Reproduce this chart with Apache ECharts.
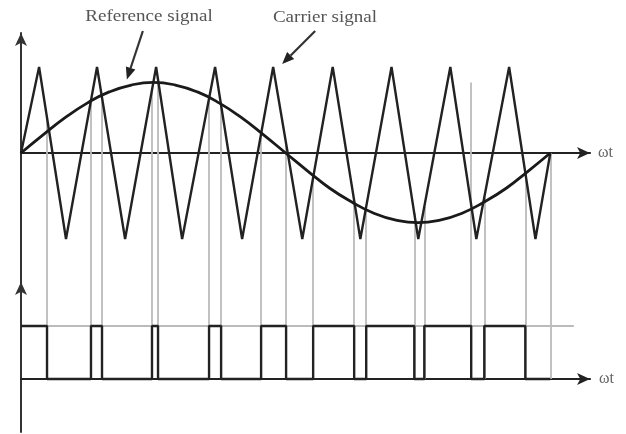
<!DOCTYPE html>
<html>
<head>
<meta charset="utf-8">
<script src="https://cdn.jsdelivr.net/npm/echarts@6/dist/echarts.min.js"></script>
<style>
  html, body { margin: 0; padding: 0; background: #fff; }
  #chart-box { width: 626px; height: 434px; }
</style>
</head>
<body>
<div id="chart-box"></div>
<script>
// angle (deg) of the reference sine
var refAngles = [0, 15, 30, 45, 60, 75, 90, 105, 120, 135, 150, 165, 180,
                 195, 210, 225, 240, 255, 270, 285, 300, 315, 330, 345, 360];
var refValues = [0, 0.21, 0.41, 0.58, 0.71, 0.79, 0.82, 0.79, 0.71, 0.58, 0.41, 0.21, 0,
                 -0.21, -0.41, -0.57, -0.70, -0.78, -0.81, -0.78, -0.70, -0.57, -0.41, -0.21, 0];

// carrier corners (deg, value)
var carrierAngles = [0, 12.3, 30.6, 51.7, 70.8, 91.9, 109.6, 132, 150.4, 171.5, 191.3,
                     212, 230.8, 252, 270.2, 292, 309.7, 332, 349.9, 360];
var carrierValues = [0, 1, -1, 1, -1, 1, -1, 1, -1, 1, -1, 1, -1, 1, -1, 1, -1, 1, -1, 0];

// switching instants of the PWM output (deg), output starts high
var pwmEdges = [17.7, 47.6, 55.1, 89.1, 93.2, 127.9, 136.1, 163.3, 180.3, 198.7,
                226.6, 234.8, 267.5, 274.3, 306.2, 315.1, 343.0];
var pwmEnd = 360;

// guide at 306.2 is drawn taller in the original
var guideTopOverride = { '306.2': 0.82 };

var labels = {
  ref: 'Reference signal',
  carrier: 'Carrier signal',
  axis: 'ωt'
};

var xMax = 387;
var upperMin = -1.5, upperMax = 1.395;
var lowerMin = -1, lowerMax = 1.83;

function interp(xs, ys, x) {
  for (var i = 1; i < xs.length; i++) {
    if (x <= xs[i]) {
      var t = (x - xs[i - 1]) / (xs[i] - xs[i - 1]);
      return ys[i - 1] + t * (ys[i] - ys[i - 1]);
    }
  }
  return ys[ys.length - 1];
}

var refData = refAngles.map(function (a, i) { return [a, refValues[i]]; });
var carrierData = carrierAngles.map(function (a, i) { return [a, carrierValues[i]]; });

var pwmData = [[0, 1]];
var level = 1;
pwmEdges.forEach(function (e) {
  pwmData.push([e, level]);
  level = 1 - level;
  pwmData.push([e, level]);
});
pwmData.push([pwmEnd, level]);

var guideEdges = pwmEdges.concat([pwmEnd]);
var upperGuides = guideEdges.map(function (e) {
  var top = guideTopOverride[String(e)] !== undefined ? guideTopOverride[String(e)] : interp(carrierAngles, carrierValues, e);
  return { coords: [[e, top], [e, upperMin]] };
});
var lowerGuides = guideEdges.map(function (e) {
  return { coords: [[e, lowerMax], [e, 0]] };
});

var ink = '#222';
var guideColor = '#bbbbbb';
var serif = '"Liberation Serif", "DejaVu Serif", serif';

var axisArrow = {
  show: true,
  onZero: true,
  symbol: ['none', 'arrow'],
  symbolSize: [9, 13],
  lineStyle: { color: ink, width: 2.2 }
};
var nameStyle = { fontFamily: serif, fontSize: 16, color: '#666', verticalAlign: 'middle' };

var myChart = echarts.init(document.getElementById('chart-box'));

var option = {
  backgroundColor: '#fff',
  animation: false,
  grid: [
    { left: 21, right: 36, top: 33, height: 249 },
    { left: 21, right: 36, top: 282, height: 150 }
  ],
  xAxis: [
    {
      gridIndex: 0, type: 'value', min: 0, max: xMax,
      axisLine: axisArrow, axisTick: { show: false }, axisLabel: { show: false },
      splitLine: { show: false },
      name: labels.axis, nameLocation: 'end', nameGap: 8, nameTextStyle: nameStyle
    },
    {
      gridIndex: 1, type: 'value', min: 0, max: xMax,
      axisLine: axisArrow, axisTick: { show: false }, axisLabel: { show: false },
      splitLine: { show: false },
      name: labels.axis, nameLocation: 'end', nameGap: 9, nameTextStyle: nameStyle
    }
  ],
  yAxis: [
    {
      gridIndex: 0, type: 'value', min: upperMin, max: upperMax,
      axisLine: { show: true, onZero: false, symbol: ['none', 'arrow'], symbolSize: [9, 13], lineStyle: { color: '#333', width: 2 } },
      axisTick: { show: false }, axisLabel: { show: false }, splitLine: { show: false }
    },
    {
      gridIndex: 1, type: 'value', min: lowerMin, max: lowerMax,
      axisLine: { show: true, onZero: false, symbol: ['none', 'arrow'], symbolSize: [9, 13], lineStyle: { color: '#333', width: 2 } },
      axisTick: { show: false }, axisLabel: { show: false }, splitLine: { show: false }
    }
  ],
  series: [
    {
      name: 'guides-upper', type: 'lines', coordinateSystem: 'cartesian2d',
      xAxisIndex: 0, yAxisIndex: 0, z: 1, silent: true,
      lineStyle: { color: guideColor, width: 1.8, opacity: 1 },
      data: upperGuides
    },
    {
      name: 'guides-lower', type: 'lines', coordinateSystem: 'cartesian2d',
      xAxisIndex: 1, yAxisIndex: 1, z: 1, silent: true,
      lineStyle: { color: guideColor, width: 1.8, opacity: 1 },
      data: lowerGuides.concat([{ coords: [[0, 1], [376, 1]] }])
    },
    {
      name: 'Carrier signal', type: 'line', xAxisIndex: 0, yAxisIndex: 0, z: 3,
      data: carrierData, symbol: 'none',
      lineStyle: { color: ink, width: 2.4 }
    },
    {
      name: 'Reference signal', type: 'line', xAxisIndex: 0, yAxisIndex: 0, z: 4,
      data: refData, smooth: true, symbol: 'none',
      lineStyle: { color: '#1a1a1a', width: 2.8 }
    },
    {
      name: 'PWM', type: 'line', xAxisIndex: 1, yAxisIndex: 1, z: 3,
      data: pwmData, symbol: 'none',
      lineStyle: { color: ink, width: 2.4 }
    }
  ]
};

myChart.setOption(option);

// annotation arrows, tips anchored on the curves they name
function arrow(from, to) {
  var dx = to[0] - from[0], dy = to[1] - from[1];
  var len = Math.sqrt(dx * dx + dy * dy);
  var ux = dx / len, uy = dy / len;
  var headLen = 12, headW = 5;
  var bx = to[0] - ux * headLen, by = to[1] - uy * headLen;
  return [
    { type: 'line', shape: { x1: from[0], y1: from[1], x2: bx, y2: by },
      style: { stroke: '#333', lineWidth: 2.2 } },
    { type: 'polygon',
      shape: { points: [to, [bx - uy * headW, by + ux * headW], [bx + uy * headW, by - ux * headW]] },
      style: { fill: '#222' } }
  ];
}

var refTip = myChart.convertToPixel({ gridIndex: 0 }, [72, interp(refAngles, refValues, 72)]);
refTip = [refTip[0], refTip[1] - 7];
var carTip = myChart.convertToPixel({ gridIndex: 0 }, [171.5, 1]);
carTip = [carTip[0] + 9, carTip[1] - 3];

var graphics = []
  .concat(arrow([refTip[0] + 16, 31], refTip))
  .concat(arrow([carTip[0] + 33, 31], carTip));
graphics.push({
  type: 'text', x: 149, y: 17, scaleX: 1.12,
  style: { text: labels.ref, fontFamily: serif, fontSize: 17, fill: '#555', align: 'center', verticalAlign: 'middle' }
});
graphics.push({
  type: 'text', x: 325, y: 18, scaleX: 1.12,
  style: { text: labels.carrier, fontFamily: serif, fontSize: 17, fill: '#555', align: 'center', verticalAlign: 'middle' }
});

myChart.setOption({ graphic: graphics });
</script>
</body>
</html>
